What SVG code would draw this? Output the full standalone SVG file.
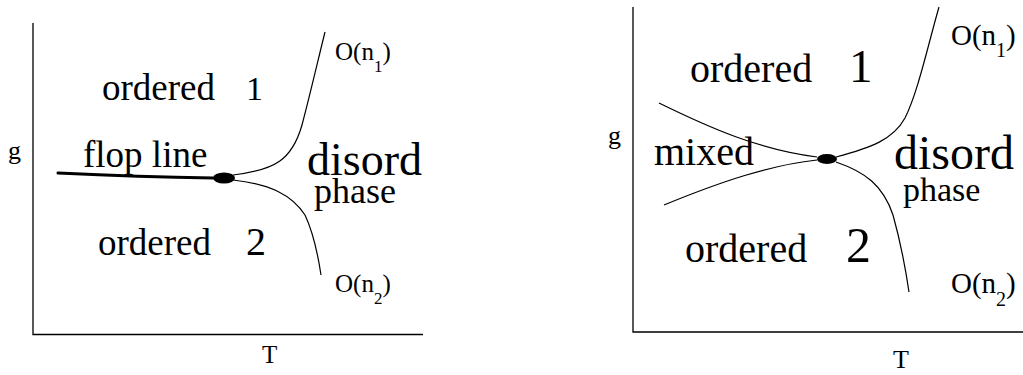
<svg xmlns="http://www.w3.org/2000/svg" width="1023" height="375" viewBox="0 0 1023 375">
<style>
text{font-family:"Liberation Serif","Times New Roman",serif;fill:#000}
.ax{fill:none;stroke:#000;stroke-width:1.3}
.c{fill:none;stroke:#000;stroke-width:1.2}
.flop{fill:none;stroke:#000;stroke-width:3;stroke-linecap:round}
.dot{fill:#000}
</style>
<rect width="1023" height="375" fill="#fff"/>
<g id="left-panel">
  <g id="left-axes">
    <path class="ax" d="M33,23 V334.5 H423"/>
    <text x="8" y="159" font-size="26">g</text>
    <text x="262" y="363" font-size="25">T</text>
  </g>
  <g id="left-connectors">
    <path class="flop" d="M58,173 Q140,177 213,178"/>
    <path class="c" d="M233,175 C275,170 292,160 302,125 C310,95 318,60 325,32"/>
    <path class="c" d="M233,180 C270,184 292,195 305,215 C313,232 318,255 321,275"/>
  </g>
  <g id="left-point"><ellipse class="dot" cx="224" cy="178" rx="11" ry="5.5"/></g>
  <g id="left-ordered1"><text x="102" y="100" font-size="37">ordered</text><text x="246" y="100" font-size="34">1</text></g>
  <g id="left-ordered2"><text x="98" y="255" font-size="37">ordered</text><text x="246" y="255" font-size="40">2</text></g>
  <g id="left-flop"><text x="83" y="167" font-size="37">flop line</text></g>
  <g id="left-disord"><text x="307" y="175" font-size="46">disord</text><text x="314" y="203" font-size="36">phase</text></g>
  <g id="left-On1"><text x="335" y="60" font-size="25">O(n<tspan font-size="17" dy="12">1</tspan><tspan dy="-12">)</tspan></text></g>
  <g id="left-On2"><text x="335" y="292" font-size="25">O(n<tspan font-size="17" dy="12">2</tspan><tspan dy="-12">)</tspan></text></g>
</g>
<g id="right-panel">
  <g id="right-axes">
    <path class="ax" d="M633,7 V332 H1023"/>
    <text x="608" y="144" font-size="26">g</text>
    <text x="893" y="368" font-size="26">T</text>
  </g>
  <g id="right-connectors">
    <path class="c" d="M836,157 C870,148 893,140 905,118 C918,92 928,45 939,7"/>
    <path class="c" d="M836,162 C865,172 883,185 893,215 C900,240 905,265 909,292"/>
    <path class="c" d="M659,103 C710,128 760,150 817,157"/>
    <path class="c" d="M664,205 C720,182 770,165 817,160"/>
  </g>
  <g id="right-point"><ellipse class="dot" cx="827" cy="159" rx="10" ry="5"/></g>
  <g id="right-ordered1"><text x="690" y="82" font-size="40">ordered</text><text x="849" y="82" font-size="47">1</text></g>
  <g id="right-ordered2"><text x="685" y="262" font-size="40">ordered</text><text x="846" y="262" font-size="50">2</text></g>
  <g id="right-mixed"><text x="654" y="165" font-size="40">mixed</text></g>
  <g id="right-disord"><text x="894" y="169" font-size="48">disord</text><text x="903" y="201" font-size="34">phase</text></g>
  <g id="right-On1"><text x="951" y="45" font-size="29">O(n<tspan font-size="20" dy="12">1</tspan><tspan dy="-12">)</tspan></text></g>
  <g id="right-On2"><text x="951" y="293" font-size="29">O(n<tspan font-size="20" dy="13">2</tspan><tspan dy="-13">)</tspan></text></g>
</g>
</svg>
